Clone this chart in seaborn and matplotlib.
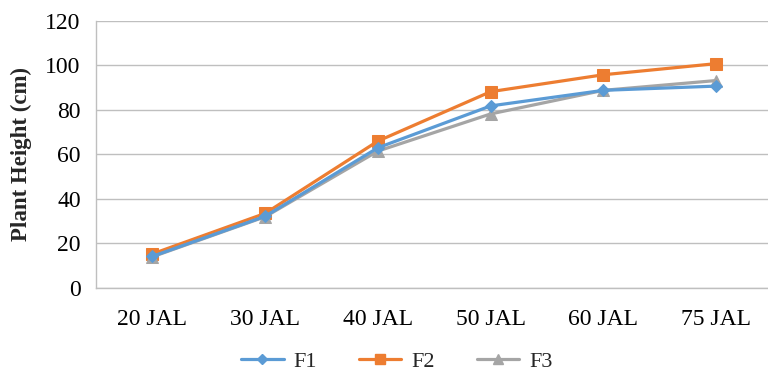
import matplotlib
matplotlib.use("Agg")
import matplotlib.pyplot as plt
import seaborn as sns
import pandas as pd
import numpy as np

stages = ["20 JAL", "30 JAL", "40 JAL", "50 JAL", "60 JAL", "75 JAL"]
f1 = [14.2, 32.2, 63.0, 81.8, 88.8, 90.7]
f2 = [15.3, 33.5, 66.0, 88.2, 95.8, 100.8]
f3 = [14.0, 32.0, 61.5, 78.2, 88.8, 93.2]
series_names = ["F1", "F2", "F3"]
colors = ["#5B9BD5", "#ED7D31", "#A5A5A5"]
markers = ["D", "s", "^"]
marker_sizes = [6.5, 9, 9]

sns.set_theme(style="white")
plt.rcParams["font.family"] = ["Liberation Serif", "DejaVu Serif"]

df = pd.DataFrame({
    "stage": stages * 3,
    "pos": list(range(len(stages))) * 3,
    "height": f1 + f2 + f3,
    "series": [n for n in series_names for _ in stages],
})

fig = plt.figure(figsize=(7.68, 3.73), dpi=100)
ax = fig.add_axes([0.125, 0.228, 0.881, 0.716])

for name, col, mk, ms in zip(series_names, colors, markers, marker_sizes):
    sub = df[df["series"] == name]
    sns.lineplot(data=sub, x="pos", y="height", ax=ax, color=col, linewidth=2.3,
                 marker=mk, markersize=ms, markeredgecolor=col, label=name,
                 zorder=3 if name != "F1" else 4, legend=False)

ax.set_xlim(-0.5, len(stages) - 0.5)
ax.set_ylim(0, 120)
ax.set_yticks(np.arange(0, 121, 20))
ax.set_xticks(range(len(stages)))
ax.set_xticklabels(stages)
ax.set_xticks(np.arange(-0.5, len(stages), 1), minor=True)
ax.tick_params(axis="x", which="major", length=0, pad=15, labelsize=17, colors="black")
ax.tick_params(axis="x", which="minor", length=6, width=1, color="#BFBFBF")
ax.tick_params(axis="y", which="major", length=5, width=1, color="#BFBFBF",
               labelsize=17, pad=6, labelcolor="black")
ax.yaxis.grid(True, color="#BFBFBF", linewidth=1)
ax.set_axisbelow(True)
for s in ["top", "right"]:
    ax.spines[s].set_visible(False)
for s in ["left", "bottom"]:
    ax.spines[s].set_color("#BFBFBF")
    ax.spines[s].set_linewidth(1)

ax.set_xlabel("")
ax.set_ylabel("Plant Height (cm)", fontsize=16.5, fontweight="bold", labelpad=10)
ax.yaxis.set_label_coords(-0.095, 0.5)

handles = [plt.Line2D([], [], color=c, marker=m, markersize=s * 0.85, linewidth=2.3,
                      markeredgecolor=c) for c, m, s in zip(colors, markers, marker_sizes)]
fig.legend(handles, series_names, loc="center", bbox_to_anchor=(0.517, 0.03), ncol=3,
           frameon=False, fontsize=16, handlelength=1.9, columnspacing=1.9,
           handletextpad=0.45, borderpad=0, borderaxespad=0)

fig.savefig("out.png", dpi=100)
